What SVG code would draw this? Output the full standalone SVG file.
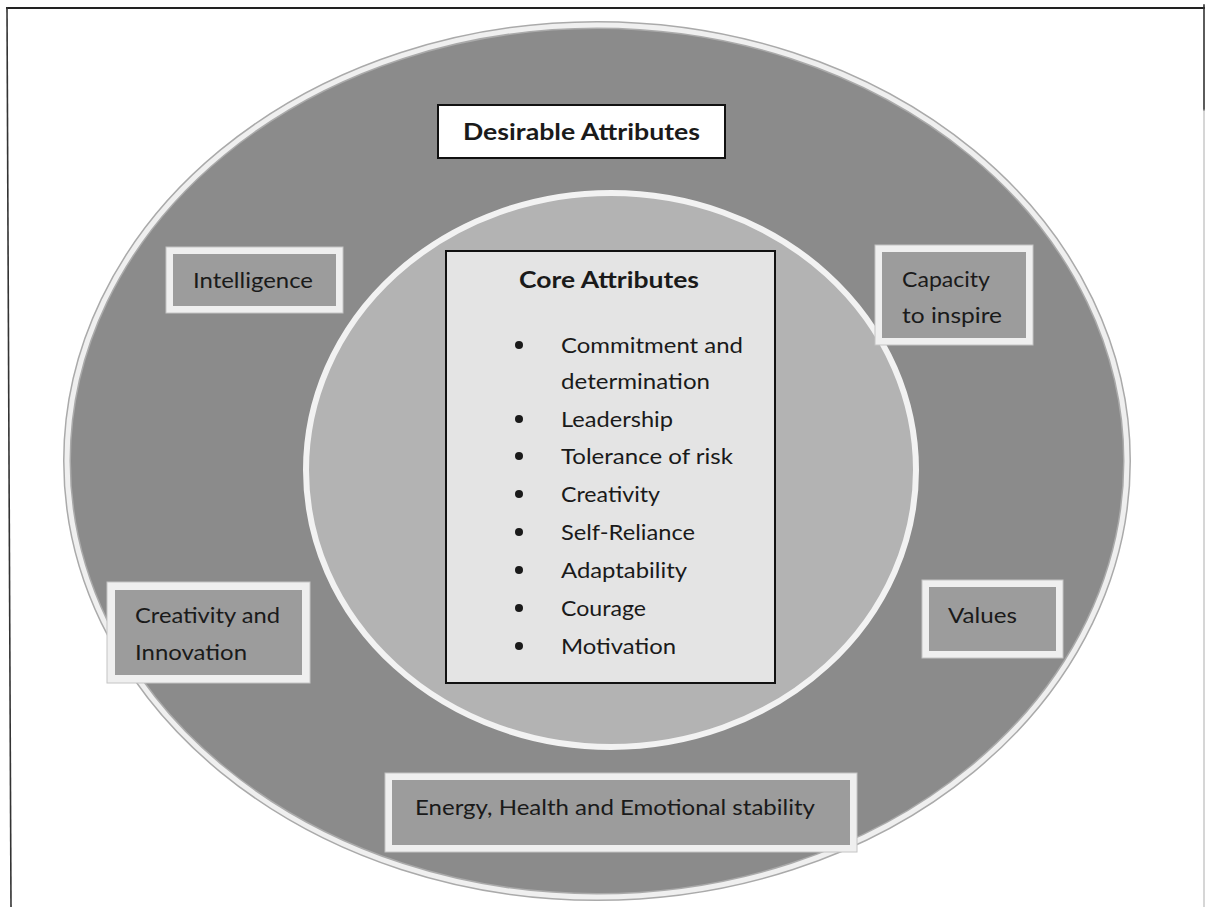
<svg xmlns="http://www.w3.org/2000/svg" width="1206" height="907" viewBox="0 0 1206 907">
<style>
  text { font-family: Lato, "Open Sans", "Liberation Sans", sans-serif; fill: #1a1a1a; }
  .t { font-size: 22px; }
  .b { font-size: 23px; font-weight: bold; }
  .rim { fill: #efefef; stroke: #c4c4c4; stroke-width: 1; }
  .lbl { fill: #9c9c9c; }
  .bul { fill: #1a1a1a; }
</style>
<rect x="0" y="0" width="1206" height="907" fill="#ffffff"/>
<g id="frame" stroke-linecap="square">
  <line x1="7" y1="8" x2="1204" y2="8" stroke="#222" stroke-width="2"/>
  <line x1="7" y1="8" x2="11" y2="907" stroke="#333" stroke-width="1.6"/>
  <line x1="1204" y1="5" x2="1204" y2="110" stroke="#333" stroke-width="1.6"/>
  <line x1="1204" y1="110" x2="1204" y2="907" stroke="#bbb" stroke-width="1.2"/>
</g>
<g id="outer-ellipse">
  <ellipse cx="597" cy="461" rx="530" ry="436" fill="#8b8b8b" stroke="#aaaaaa" stroke-width="8"/>
  <ellipse cx="597" cy="461" rx="530" ry="436" fill="none" stroke="#efefef" stroke-width="5"/>
</g>
<g id="desirable-attributes">
  <rect x="438" y="105" width="287" height="53" fill="#ffffff" stroke="#111" stroke-width="2"/>
  <text class="b" x="463" y="140" textLength="237" lengthAdjust="spacingAndGlyphs">Desirable Attributes</text>
</g>
<g id="inner-circle">
  <ellipse cx="611" cy="470" rx="305" ry="277" fill="#b3b3b3" stroke="#f2f2f2" stroke-width="6"/>
</g>
<g id="core-attributes">
  <rect x="446" y="251" width="329" height="432" fill="#e4e4e4" stroke="#111" stroke-width="2"/>
  <text class="b" x="519" y="288" textLength="180" lengthAdjust="spacingAndGlyphs">Core Attributes</text>
  <circle class="bul" cx="519" cy="345" r="4"/>
  <text class="t" x="561" y="353" textLength="182" lengthAdjust="spacingAndGlyphs">Commitment and</text>
  <text class="t" x="561" y="389" textLength="149" lengthAdjust="spacingAndGlyphs">determination</text>
  <circle class="bul" cx="519" cy="419" r="4"/>
  <text class="t" x="561" y="427" textLength="112" lengthAdjust="spacingAndGlyphs">Leadership</text>
  <circle class="bul" cx="519" cy="456" r="4"/>
  <text class="t" x="561" y="464" textLength="172" lengthAdjust="spacingAndGlyphs">Tolerance of risk</text>
  <circle class="bul" cx="519" cy="494" r="4"/>
  <text class="t" x="561" y="502" textLength="99" lengthAdjust="spacingAndGlyphs">Creativity</text>
  <circle class="bul" cx="519" cy="532" r="4"/>
  <text class="t" x="561" y="540" textLength="134" lengthAdjust="spacingAndGlyphs">Self-Reliance</text>
  <circle class="bul" cx="519" cy="570" r="4"/>
  <text class="t" x="561" y="578" textLength="126" lengthAdjust="spacingAndGlyphs">Adaptability</text>
  <circle class="bul" cx="519" cy="608" r="4"/>
  <text class="t" x="561" y="616" textLength="85" lengthAdjust="spacingAndGlyphs">Courage</text>
  <circle class="bul" cx="519" cy="646" r="4"/>
  <text class="t" x="561" y="654" textLength="115" lengthAdjust="spacingAndGlyphs">Motivation</text>
</g>
<g id="intelligence">
  <rect class="rim" x="166" y="247" width="177" height="66"/>
  <rect class="lbl" x="173" y="254" width="163" height="52"/>
  <text class="t" x="193" y="288" textLength="120" lengthAdjust="spacingAndGlyphs">Intelligence</text>
</g>
<g id="capacity-to-inspire">
  <rect class="rim" x="875" y="245" width="158" height="100"/>
  <rect class="lbl" x="882" y="252" width="144" height="86"/>
  <text class="t" x="902" y="287" textLength="88" lengthAdjust="spacingAndGlyphs">Capacity</text>
  <text class="t" x="902" y="323" textLength="100" lengthAdjust="spacingAndGlyphs">to inspire</text>
</g>
<g id="creativity-innovation">
  <rect class="rim" x="107" y="582" width="203" height="101"/>
  <rect class="lbl" x="115" y="590" width="187" height="85"/>
  <text class="t" x="135" y="623" textLength="145" lengthAdjust="spacingAndGlyphs">Creativity and</text>
  <text class="t" x="135" y="660" textLength="112" lengthAdjust="spacingAndGlyphs">Innovation</text>
</g>
<g id="values">
  <rect class="rim" x="922" y="580" width="141" height="78"/>
  <rect class="lbl" x="929" y="587" width="127" height="64"/>
  <text class="t" x="948" y="623" textLength="69" lengthAdjust="spacingAndGlyphs">Values</text>
</g>
<g id="energy-health">
  <rect class="rim" x="385" y="773" width="472" height="79"/>
  <rect class="lbl" x="392" y="780" width="458" height="65"/>
  <text class="t" x="415" y="815" textLength="400" lengthAdjust="spacingAndGlyphs">Energy, Health and Emotional stability</text>
</g>
</svg>
